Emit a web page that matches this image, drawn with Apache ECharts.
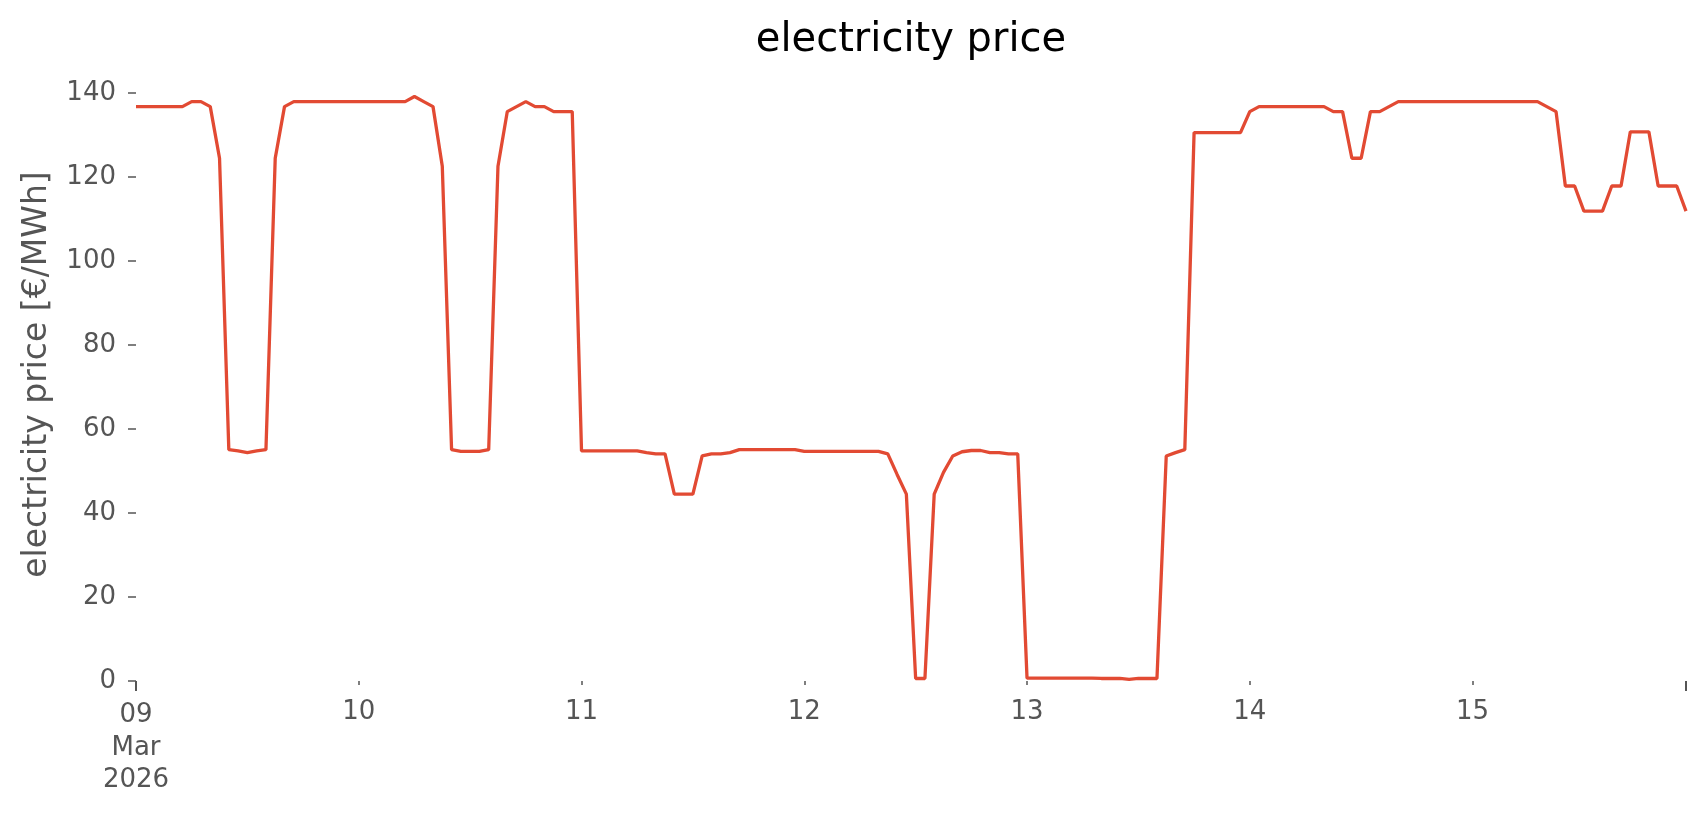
<!DOCTYPE html>
<html>
<head>
<meta charset="utf-8">
<script src="https://cdn.jsdelivr.net/npm/echarts@6/dist/echarts.min.js"></script>
<style>
  html, body { margin: 0; padding: 0; background: #ffffff; }
  #chart { width: 1706px; height: 815px; }
</style>
</head>
<body>
<div id="chart"></div>
<script>
// hourly electricity price, 09 Mar 2026 00:00 .. 15 Mar 2026 23:00 (hour index from start)
const day09 = [136.8,136.8,136.8,136.8,136.8,136.8,138.0,138.0,136.8,124.5,55.1,54.8,54.4,54.8,55.1,124.5,136.8,138.0,138.0,138.0,138.0,138.0,138.0,138.0];
const day10 = [138.0,138.0,138.0,138.0,138.0,138.0,139.2,138.0,136.8,122.6,55.1,54.7,54.7,54.7,55.1,122.6,135.6,136.8,138.0,136.8,136.8,135.6,135.6,135.6];
const day11 = [54.8,54.8,54.8,54.8,54.8,54.8,54.8,54.4,54.1,54.1,44.5,44.5,44.5,53.6,54.1,54.1,54.4,55.1,55.1,55.1,55.1,55.1,55.1,55.1];
const day12 = [54.7,54.7,54.7,54.7,54.7,54.7,54.7,54.7,54.7,54.1,49.2,44.5,0.6,0.6,44.5,49.7,53.6,54.6,54.9,54.9,54.4,54.4,54.1,54.1];
const day13 = [0.7,0.7,0.7,0.7,0.7,0.7,0.7,0.7,0.6,0.6,0.6,0.4,0.6,0.6,0.6,53.6,54.4,55.1,130.6,130.6,130.6,130.6,130.6,130.6];
const day14 = [135.6,136.8,136.8,136.8,136.8,136.8,136.8,136.8,136.8,135.6,135.6,124.5,124.5,135.6,135.6,136.8,138.0,138.0,138.0,138.0,138.0,138.0,138.0,138.0];
const day15 = [138.0,138.0,138.0,138.0,138.0,138.0,138.0,138.0,136.8,135.6,117.9,117.9,111.9,111.9,111.9,117.9,117.9,130.8,130.8,130.8,117.9,117.9,117.9,111.9];

const minorDayTicks = [24, 48, 72, 96, 120, 144];
const minorDayLabels = ['10', '11', '12', '13', '14', '15'];
const majorTickLabel = '09\nMar\n2026';
const yTicks = [0, 20, 40, 60, 80, 100, 120, 140];

const prices = [].concat(day09, day10, day11, day12, day13, day14, day15);
const lastHour = prices.length - 1;
const seriesData = prices.map((v, i) => [i, v]);

const FONT = 'DejaVu Sans';
const GREY = '#555555';

const chart = echarts.init(document.getElementById('chart'), null, { renderer: 'canvas' });
chart.setOption({
  backgroundColor: '#ffffff',
  animation: false,
  title: {
    text: 'electricity price',
    left: 906,
    top: 16,
    textAlign: 'center',
    textStyle: { fontFamily: FONT, fontSize: 40, fontWeight: 'normal', color: '#000000' }
  },
  grid: { left: 136, right: 20, top: 68, bottom: 134, outerBoundsMode: 'none', containLabel: false },
  xAxis: [
    {
      type: 'value',
      min: 0,
      max: lastHour,
      position: 'bottom',
      axisLine: { show: false },
      splitLine: { show: false },
      axisTick: { show: true, customValues: minorDayTicks, length: 4, lineStyle: { color: GREY, width: 1.5 } },
      axisLabel: {
        customValues: minorDayTicks,
        formatter: (v) => { const i = minorDayTicks.indexOf(v); return i >= 0 ? minorDayLabels[i] : ''; },
        fontFamily: FONT, fontSize: 26, color: GREY, lineHeight: 32.5, margin: 15, align: 'center'
      }
    },
    {
      type: 'value',
      min: 0,
      max: lastHour,
      position: 'top',
      offset: -613,
      axisLine: { show: false },
      splitLine: { show: false },
      axisTick: { show: true, inside: true, customValues: [0, lastHour], length: 10, lineStyle: { color: GREY, width: 2 } },
      axisLabel: {
        show: true,
        inside: true,
        customValues: [0],
        formatter: () => majorTickLabel,
        fontFamily: FONT, fontSize: 26, color: GREY, lineHeight: 32.5, margin: 18, align: 'center'
      }
    }
  ],
  yAxis: {
    type: 'value',
    min: -0.001,
    max: 146,
    name: 'electricity price [€/MWh]',
    nameLocation: 'middle',
    nameRotate: 90,
    nameGap: 82,
    nameMoveOverlap: false,
    nameTextStyle: { fontFamily: FONT, fontSize: 33, color: GREY },
    axisLine: { show: false },
    splitLine: { show: false },
    axisTick: { show: true, customValues: yTicks, length: 8, lineStyle: { color: GREY, width: 1.5 } },
    axisLabel: {
      customValues: yTicks,
      formatter: (v) => String(Math.round(v)),
      align: 'right',
      hideOverlap: false,
      fontFamily: FONT, fontSize: 26, color: GREY, margin: 20
    }
  },
  series: [{
    type: 'line',
    xAxisIndex: 0,
    data: seriesData,
    showSymbol: false,
    symbol: 'none',
    lineStyle: { color: '#E24A33', width: 3.3 },
    clip: true
  }]
});
</script>
</body>
</html>
